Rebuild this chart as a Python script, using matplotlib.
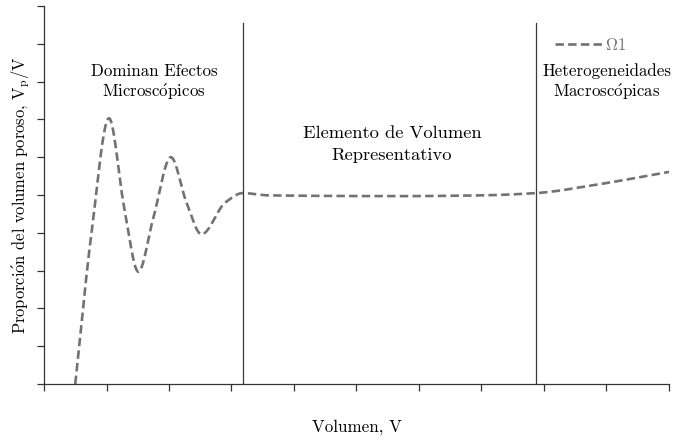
import matplotlib
matplotlib.use("Agg")
from matplotlib import pyplot as plt
import numpy as np

plt.rcParams['font.family'] = ['cmr10', 'DejaVu Serif']
plt.rcParams['mathtext.fontset'] = 'cm'
plt.rcParams['axes.unicode_minus'] = False

# Puntos de la curva (volumen vs proporción de poros)
volumen = [0.5, 0.76, 1.04, 1.28, 1.51, 1.75, 2.03, 2.28, 2.52, 2.9, 3.18,
           3.6, 5.7, 7.0, 7.87, 8.9, 10.0]
proporcion = [0.0, 0.40, 0.703, 0.47, 0.297, 0.44, 0.60, 0.48, 0.396, 0.48, 0.505,
              0.499, 0.497, 0.499, 0.505, 0.529, 0.561]

# Límites entre las zonas
limites = [3.18, 7.87]

# cmr10 no trae la "ó", se compone con el acento de mathtext
o_ac = r'$\acute{\mathrm{o}}$'
zonas = ['Dominan Efectos\nMicrosc' + o_ac + 'picos',
         'Elemento de Volumen\nRepresentativo',
         'Heterogeneidades\nMacrosc' + o_ac + 'picas']


def suavizar(x, y, n=40):
    # Hermite cúbico monótono por tramos (tipo PCHIP)
    x = np.asarray(x, float)
    y = np.asarray(y, float)
    hk = np.diff(x)
    d = np.diff(y) / hk
    m = np.zeros_like(y)
    for i in range(1, len(y) - 1):
        if d[i - 1] * d[i] > 0:
            w1 = 2 * hk[i] + hk[i - 1]
            w2 = hk[i] + 2 * hk[i - 1]
            m[i] = (w1 + w2) / (w1 / d[i - 1] + w2 / d[i])
    m[0] = d[0]
    m[-1] = d[-1]
    xs, ys = [], []
    t = np.linspace(0, 1, n)
    h00 = 2 * t**3 - 3 * t**2 + 1
    h10 = t**3 - 2 * t**2 + t
    h01 = -2 * t**3 + 3 * t**2
    h11 = t**3 - t**2
    for i in range(len(x) - 1):
        h = hk[i]
        xs.extend(x[i] + t * h)
        ys.extend(h00 * y[i] + h10 * h * m[i] + h01 * y[i + 1] + h11 * h * m[i + 1])
    return np.array(xs), np.array(ys)


fig = plt.figure(figsize=(6.78, 4.37), dpi=100)
ax = fig.add_axes([0.0649, 0.1213, 0.9218, 0.865])

xs, ys = suavizar(volumen, proporcion)
ax.plot(xs, ys, color='#767171', lw=1.9, dashes=(3.2, 1.6), label=r'$\Omega1$')

for xl in limites:
    ax.plot([xl, xl], [0, 0.955], color='#3a3a3a', lw=0.9)

ax.text(1.76, 0.797, zonas[0], ha='center', va='center', fontsize=12.2, linespacing=1.2)
ax.text(5.57, 0.634, zonas[1], ha='center', va='center', fontsize=13.3, linespacing=1.5)
ax.text(9.01, 0.797, zonas[2], ha='center', va='center', fontsize=12.2, linespacing=1.2)

ax.set_xlim(0, 10)
ax.set_ylim(0, 1)
ax.set_xticks(np.arange(0, 11, 1))
ax.set_yticks(np.arange(0, 1.01, 0.1))
ax.set_xticklabels([])
ax.set_yticklabels([])
ax.tick_params(direction='out', length=5, width=0.9, color='#333333')
for s in ['top', 'right']:
    ax.spines[s].set_visible(False)
for s in ['left', 'bottom']:
    ax.spines[s].set_color('#333333')
    ax.spines[s].set_linewidth(0.9)

ax.set_xlabel('Volumen, V', fontsize=12.2, labelpad=17)
ax.set_ylabel('Proporci' + o_ac + r'n del volumen poroso, V$_\mathrm{p}$/V', fontsize=11.9)
ax.yaxis.set_label_coords(-0.02, 0.5)

leg = ax.legend(loc='center left', frameon=False, fontsize=12, handlelength=2.8,
                handletextpad=0.2, borderpad=0, borderaxespad=0,
                bbox_to_anchor=(0.8176, 0.897), labelcolor='#767171')

fig.savefig('out.png', dpi=100)
